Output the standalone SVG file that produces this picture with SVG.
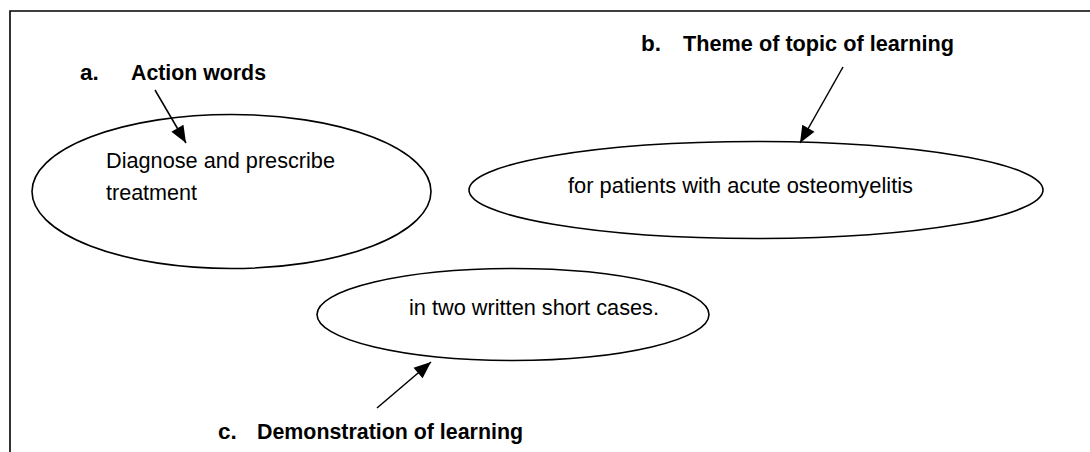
<svg xmlns="http://www.w3.org/2000/svg" width="1090" height="452" viewBox="0 0 1090 452">
  <style>
    .frame { fill: none; stroke: #000; stroke-width: 1.6; }
    .node { fill: #fff; stroke: #000; stroke-width: 1.6; }
    .lbl { font-family: "Liberation Sans", Arial, sans-serif; font-weight: bold; font-size: 22.5px; fill: #000; }
    .txt { font-family: "Liberation Sans", Arial, sans-serif; font-size: 22px; fill: #000; }
    .conn { stroke: #000; stroke-width: 1.5; fill: none; marker-end: url(#arrow); }
  </style>
  <defs>
    <marker id="arrow" viewBox="0 0 17 14" refX="17" refY="7" markerWidth="17" markerHeight="14" markerUnits="userSpaceOnUse" orient="auto" style="overflow:visible">
      <path d="M0,0 L17,7 L0,14 z" fill="#000"/>
    </marker>
  </defs>
  <rect width="1090" height="452" fill="#fff"/>
  <path class="frame" d="M10,452 L10,11 L1090,11"/>

  <g id="node-a">
    <ellipse class="node" cx="231.5" cy="191.5" rx="199.5" ry="77"/>
    <text class="txt" x="106" y="168" textLength="229" lengthAdjust="spacingAndGlyphs">Diagnose and prescribe</text>
    <text class="txt" x="106" y="200" textLength="91" lengthAdjust="spacingAndGlyphs">treatment</text>
  </g>
  <g id="node-b">
    <ellipse class="node" cx="756" cy="190" rx="287" ry="48.5"/>
    <text class="txt" x="568" y="193" textLength="345" lengthAdjust="spacingAndGlyphs">for patients with acute osteomyelitis</text>
  </g>
  <g id="node-c">
    <ellipse class="node" cx="513" cy="314.5" rx="196" ry="46"/>
    <text class="txt" x="409" y="315" textLength="250" lengthAdjust="spacingAndGlyphs">in two written short cases.</text>
  </g>

  <g id="label-a">
    <text class="lbl" x="80" y="80">a.</text>
    <text class="lbl" x="131" y="80" textLength="135" lengthAdjust="spacingAndGlyphs">Action words</text>
  </g>
  <g id="label-b">
    <text class="lbl" x="641" y="51">b.</text>
    <text class="lbl" x="683" y="51" textLength="271" lengthAdjust="spacingAndGlyphs">Theme of topic of learning</text>
  </g>
  <g id="label-c">
    <text class="lbl" x="218" y="439">c.</text>
    <text class="lbl" x="257" y="439" textLength="266" lengthAdjust="spacingAndGlyphs">Demonstration of learning</text>
  </g>

  <g id="connectors">
    <line class="conn" x1="155" y1="90" x2="186" y2="143"/>
    <line class="conn" x1="843" y1="67" x2="800" y2="143"/>
    <line class="conn" x1="377" y1="408" x2="431" y2="362"/>
  </g>
</svg>
